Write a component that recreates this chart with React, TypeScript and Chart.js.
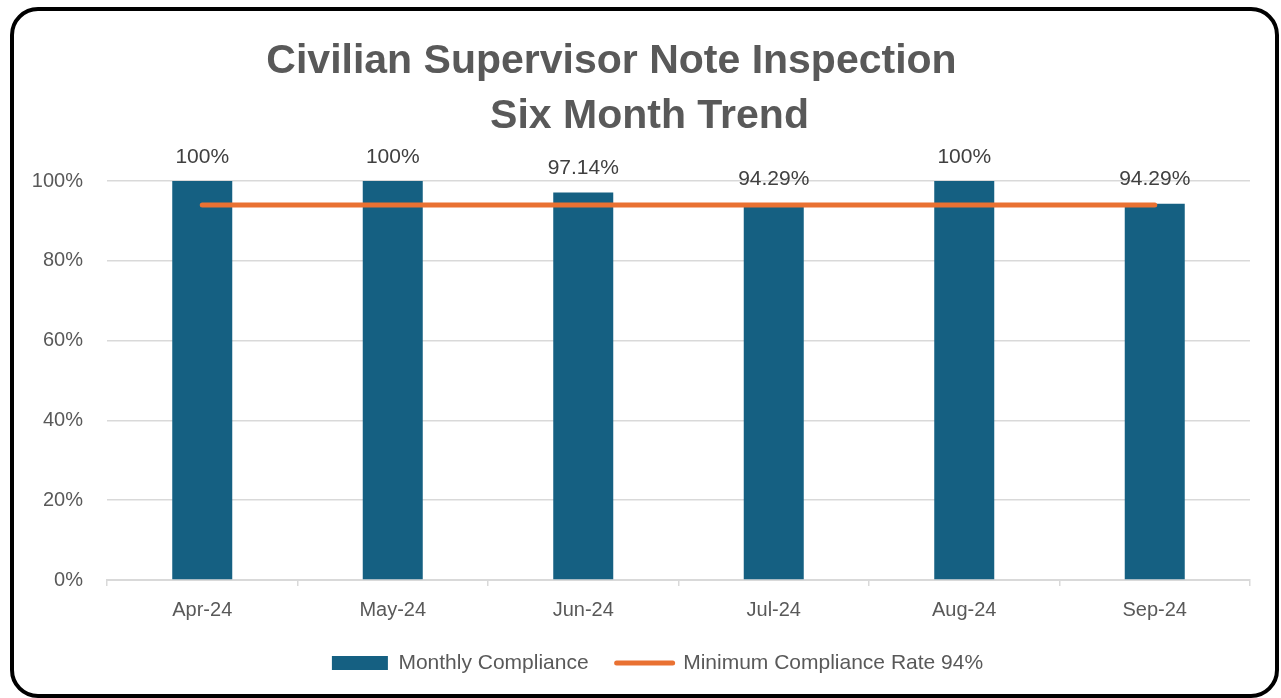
import React, { useEffect, useRef } from "react";
import { Chart, registerables } from "chart.js";

Chart.register(...registerables);

const categories = ["Apr-24", "May-24", "Jun-24", "Jul-24", "Aug-24", "Sep-24"];
const complianceValues = [100, 100, 97.14, 94.29, 100, 94.29];
const minimumRateValues = [94, 94, 94, 94, 94, 94];
const valueLabels = ["100%", "100%", "97.14%", "94.29%", "100%", "94.29%"];
const yTickValues = [0, 20, 40, 60, 80, 100];
const titleLines = ["Civilian Supervisor Note Inspection", "Six Month Trend"];
const seriesNames = ["Monthly Compliance", "Minimum Compliance Rate 94%"];

const BLUE = "#156082";
const ORANGE = "#E97132";
const GRID = "#D9D9D9";
const TEXT = "#595959";
const FONT = "'Liberation Sans', Arial, sans-serif";

const titlePlugin = {
  id: "twoLineTitle",
  afterDraw(chart: any) {
    const ctx = chart.ctx;
    ctx.save();
    ctx.fillStyle = TEXT;
    ctx.font = `bold 41px ${FONT}`;
    ctx.textAlign = "center";
    ctx.textBaseline = "alphabetic";
    ctx.fillText(titleLines[0], 611.5, 73);
    ctx.fillText(titleLines[1], 649.5, 128);
    ctx.restore();
  },
};

const valueLabelPlugin = {
  id: "valueLabels",
  afterDatasetsDraw(chart: any) {
    const ctx = chart.ctx;
    const meta = chart.getDatasetMeta(0);
    ctx.save();
    ctx.fillStyle = "#404040";
    ctx.font = `21px ${FONT}`;
    ctx.textAlign = "center";
    ctx.textBaseline = "alphabetic";
    meta.data.forEach((el: any, i: number) => {
      ctx.fillText(valueLabels[i], el.x, el.y - 18.5);
    });
    ctx.restore();
  },
};

export default function App() {
  const ref = useRef<HTMLCanvasElement>(null);

  useEffect(() => {
    if (!ref.current) return;
    const chart = new Chart(ref.current, {
      type: "bar",
      data: {
        labels: categories,
        datasets: [
          {
            type: "bar",
            label: seriesNames[0],
            data: complianceValues,
            backgroundColor: BLUE,
            borderWidth: 0,
            barPercentage: 0.315,
            categoryPercentage: 1,
            order: 2,
            yAxisID: "y",
          } as any,
          {
            type: "line",
            label: seriesNames[1],
            data: minimumRateValues,
            borderColor: ORANGE,
            backgroundColor: ORANGE,
            borderWidth: 5,
            borderCapStyle: "round",
            pointRadius: 0,
            pointHoverRadius: 0,
            fill: false,
            order: 1,
            yAxisID: "y",
          } as any,
        ],
      },
      options: {
        responsive: false,
        animation: false,
        devicePixelRatio: 1,
        layout: { padding: { left: 24, right: -10, top: 181, bottom: 14.5 } },
        scales: {
          x: {
            offset: true,
            grid: {
              display: true,
              drawOnChartArea: false,
              drawTicks: true,
              tickLength: 6,
              color: GRID,
              lineWidth: 1.5,
              offset: true,
            },
            border: { display: true, color: GRID, width: 2 },
            ticks: { color: TEXT, font: { family: FONT, size: 20 }, padding: 12 },
            afterFit: (s: any) => {
              s.height = 44.5;
            },
          },
          y: {
            position: "left",
            min: 0,
            max: 100,
            grid: { color: GRID, lineWidth: 1.5, drawTicks: false },
            border: { display: false },
            ticks: {
              color: TEXT,
              font: { family: FONT, size: 20 },
              padding: 24,
              stepSize: 20,
              callback: (v: any) => (yTickValues.includes(Number(v)) ? `${v}%` : ""),
            },
            afterFit: (s: any) => {
              s.width = 83;
            },
          },
          yRight: {
            type: "linear",
            position: "right",
            display: true,
            grid: { display: false, drawTicks: false },
            border: { display: false },
            ticks: { display: false },
            afterFit: (s: any) => {
              s.width = 41;
            },
          },
        },
        plugins: {
          title: { display: false },
          tooltip: { enabled: false },
          legend: {
            display: true,
            position: "bottom",
            labels: {
              usePointStyle: true,
              pointStyleWidth: 56,
              boxHeight: 14,
              padding: 28,
              color: TEXT,
              font: { family: FONT, size: 21 },
              generateLabels: (c: any) => {
                const items = (Chart.defaults.plugins.legend.labels as any).generateLabels(c);
                return items
                  .sort((a: any, b: any) => a.datasetIndex - b.datasetIndex)
                  .map((it: any) =>
                    it.datasetIndex === 1
                      ? { ...it, pointStyle: "line", lineCap: "round", lineWidth: 5, strokeStyle: ORANGE, fillStyle: ORANGE }
                      : { ...it, pointStyle: "rect", lineWidth: 0, fillStyle: BLUE, strokeStyle: BLUE }
                  );
              },
            },
          },
        },
      },
      plugins: [titlePlugin, valueLabelPlugin],
    });
    return () => chart.destroy();
  }, []);

  return (
    <div style={{ position: "fixed", left: 0, top: 0, width: 1281, height: 698, background: "#fff" }}>
      <canvas
        ref={ref}
        width={1281}
        height={698}
        style={{ position: "absolute", left: 0, top: 0, width: 1281, height: 698 }}
      />
      <div
        style={{
          position: "absolute",
          left: 10,
          top: 7,
          width: 1269,
          height: 691,
          border: "4px solid #000",
          borderRadius: 28,
          boxSizing: "border-box",
          pointerEvents: "none",
        }}
      />
    </div>
  );
}
